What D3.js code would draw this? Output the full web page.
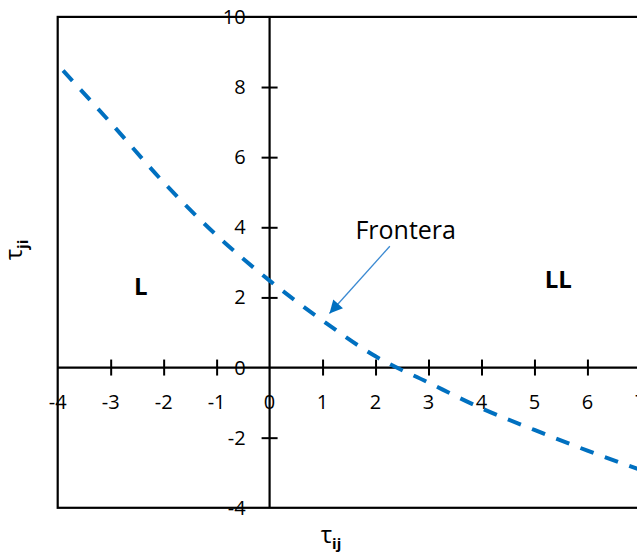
<!DOCTYPE html>
<html>
<head>
<meta charset="utf-8">
<script src="https://cdn.jsdelivr.net/npm/d3@7"></script>
<style>
  html, body { margin: 0; padding: 0; background: #ffffff; }
  svg { display: block; font-family: "Open Sans", "Noto Sans", sans-serif; }
</style>
</head>
<body>
<svg id="chart" width="637" height="555"></svg>
<script>
// Frontier between the two regions (tau_ij on x, tau_ji on y)
const frontierX = [-3.9, -3, -2, -1, 0, 1, 2, 3, 4, 5, 6, 7];
const frontierY = [8.47, 6.98, 5.28, 3.77, 2.48, 1.34, 0.32, -0.43, -1.16, -1.78, -2.37, -2.92];

const xTicks = [-4, -3, -2, -1, 0, 1, 2, 3, 4, 5, 6, 7];
const yTicks = [-4, -2, 0, 2, 4, 6, 8, 10];

// Region labels and the annotation, placed in data units
const regionNames = ["L", "LL"];
const regionX = [-2.43, 5.45];
const regionY = [2.08, 2.28];
const noteText = "Frontera";
const noteTextAt = [1.62, 3.67];
const noteFrom = [2.27, 3.46];
const noteTo = [1.13, 1.54];

const svg = d3.select("#chart");

const x = d3.scaleLinear().domain([-4, 7]).range([57.7, 640.4]);
const y = d3.scaleLinear().domain([-4, 10]).range([507.8, 16.9]);

const ink = "#000000";
const blue = "#0070C0";

// Outer frame
svg.append("rect")
  .attr("x", x(-4)).attr("y", y(10))
  .attr("width", x(7) - x(-4)).attr("height", y(-4) - y(10))
  .attr("fill", "none").attr("stroke", ink).attr("stroke-width", 2.2);

// Axes through the origin, ticks crossing the line
const xAxis = d3.axisBottom(x)
  .tickValues(xTicks.filter(d => d !== -4 && d !== 7 && d !== 0))
  .tickSize(16).tickFormat("");
svg.append("g")
  .attr("transform", `translate(0,${y(0) - 8})`)
  .call(xAxis)
  .call(g => g.select(".domain").remove())
  .call(g => g.selectAll(".tick line").attr("stroke", ink).attr("stroke-width", 2));

const yAxis = d3.axisLeft(y)
  .tickValues(yTicks.filter(d => d !== -4 && d !== 10 && d !== 0))
  .tickSize(16).tickFormat("");
svg.append("g")
  .attr("transform", `translate(${x(0) + 8},0)`)
  .call(yAxis)
  .call(g => g.select(".domain").remove())
  .call(g => g.selectAll(".tick line").attr("stroke", ink).attr("stroke-width", 2));

svg.append("line")
  .attr("x1", x(-4)).attr("x2", x(7)).attr("y1", y(0)).attr("y2", y(0))
  .attr("stroke", ink).attr("stroke-width", 2.2);
svg.append("line")
  .attr("x1", x(0)).attr("x2", x(0)).attr("y1", y(10)).attr("y2", y(-4))
  .attr("stroke", ink).attr("stroke-width", 2.2);

// Tick labels
svg.append("g").selectAll("text")
  .data(xTicks).join("text")
  .attr("x", d => x(d))
  .attr("y", y(0) + 41)
  .attr("text-anchor", "middle")
  .attr("font-size", 20)
  .attr("fill", ink)
  .text(d => d);

svg.append("g").selectAll("text")
  .data(yTicks).join("text")
  .attr("x", x(0) - 24)
  .attr("y", d => y(d) + 7)
  .attr("text-anchor", "end")
  .attr("font-size", 20)
  .attr("fill", ink)
  .text(d => d);

// Frontier curve
const line = d3.line()
  .x(d => x(d[0]))
  .y(d => y(d[1]))
  .curve(d3.curveMonotoneX);
svg.append("path")
  .datum(d3.zip(frontierX, frontierY))
  .attr("d", line)
  .attr("fill", "none")
  .attr("stroke", blue)
  .attr("stroke-width", 4)
  .attr("stroke-dasharray", "14,12");

// Region labels
svg.append("g").selectAll("text")
  .data(regionNames).join("text")
  .attr("x", (d, i) => x(regionX[i]))
  .attr("y", (d, i) => y(regionY[i]))
  .attr("text-anchor", "middle")
  .attr("font-size", 24)
  .attr("font-weight", "bold")
  .attr("fill", ink)
  .text(d => d);

// Annotation arrow
svg.append("defs").append("marker")
  .attr("id", "head")
  .attr("viewBox", "0 0 10 10")
  .attr("refX", 10).attr("refY", 5)
  .attr("markerUnits", "userSpaceOnUse")
  .attr("markerWidth", 15).attr("markerHeight", 13)
  .attr("orient", "auto")
  .append("path")
  .attr("d", "M0,0 L10,5 L0,10 Z")
  .attr("fill", blue);

svg.append("line")
  .attr("x1", x(noteFrom[0])).attr("y1", y(noteFrom[1]))
  .attr("x2", x(noteTo[0])).attr("y2", y(noteTo[1]))
  .attr("stroke", "#3b8ad2")
  .attr("stroke-width", 1.3)
  .attr("marker-end", "url(#head)");

svg.append("text")
  .attr("x", x(noteTextAt[0]))
  .attr("y", y(noteTextAt[1]))
  .attr("font-size", 25)
  .attr("fill", ink)
  .text(noteText);

// Axis titles
const xTitle = svg.append("text")
  .attr("x", 331).attr("y", 543)
  .attr("text-anchor", "middle")
  .attr("fill", ink);
xTitle.append("tspan").attr("font-size", 24).text("τ");
xTitle.append("tspan").attr("font-size", 15).attr("font-weight", "bold").attr("dy", 6).text("ij");

const yTitle = svg.append("text")
  .attr("transform", "translate(22,250) rotate(-90)")
  .attr("text-anchor", "middle")
  .attr("fill", ink);
yTitle.append("tspan").attr("font-size", 24).text("τ");
yTitle.append("tspan").attr("font-size", 15).attr("font-weight", "bold").attr("dy", 6).text("ji");
</script>
</body>
</html>
